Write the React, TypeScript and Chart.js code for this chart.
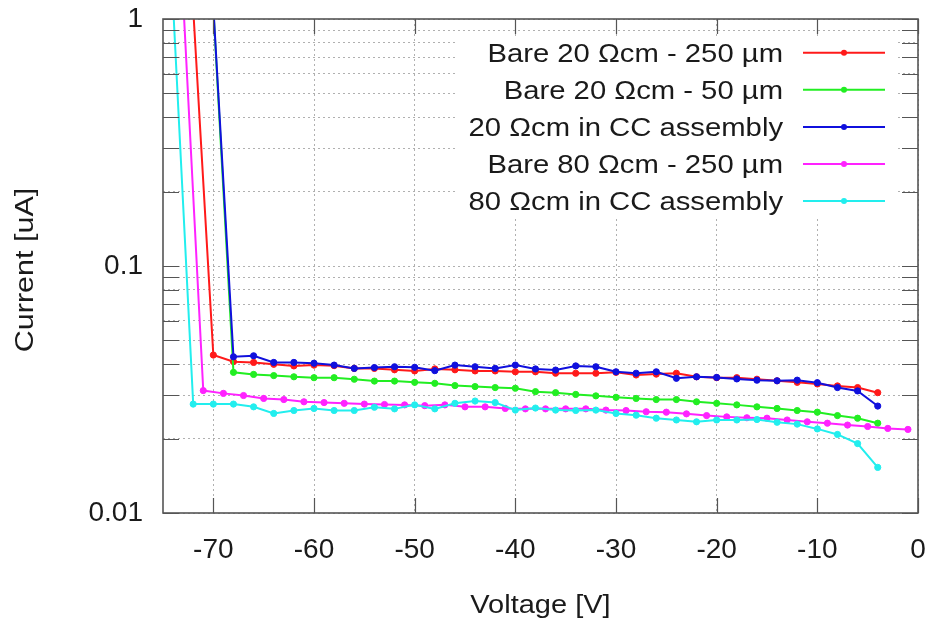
import { useEffect, useRef } from "react";
import { Chart, registerables } from "chart.js";

Chart.register(...registerables);

// ---------- data ----------
const seriesNames = [
  "Bare 20 Ωcm - 250 µm",
  "Bare 20 Ωcm - 50 µm",
  "20 Ωcm in CC assembly",
  "Bare 80 Ωcm - 250 µm",
  "80 Ωcm in CC assembly",
];
const seriesColors = ["#ff1a1a", "#22ee22", "#1010dd", "#ff22ff", "#22eeee"];

const redV = [-72, -70, -68, -66, -64, -62, -60, -58, -56, -54, -52, -50, -48, -46, -44, -42, -40, -38,
  -36, -34, -32, -30, -28, -26, -24, -22, -20, -18, -16, -14, -12, -10, -8, -6, -4];
const redI = [1.1, 0.0436, 0.041, 0.0407, 0.04, 0.0394, 0.0397, 0.0395, 0.0385, 0.0385, 0.038, 0.0376, 0.0383, 0.038, 0.0376, 0.0376, 0.0373, 0.0373,
  0.0368, 0.0368, 0.0368, 0.0371, 0.0362, 0.0365, 0.0368, 0.0356, 0.0353, 0.0353, 0.0348, 0.0343, 0.0338, 0.0333, 0.0327, 0.0322, 0.0307];

const greenV = [-70, -68, -66, -64, -62, -60, -58, -56, -54, -52, -50, -48, -46, -44, -42, -40, -38,
  -36, -34, -32, -30, -28, -26, -24, -22, -20, -18, -16, -14, -12, -10, -8, -6, -4];
const greenI = [1.1, 0.0371, 0.0364, 0.036, 0.0356, 0.0353, 0.0353, 0.0348, 0.0342, 0.0342, 0.0338, 0.0335, 0.0328, 0.0325, 0.0322, 0.032, 0.031,
  0.0307, 0.0302, 0.0298, 0.0294, 0.0291, 0.0288, 0.0288, 0.0282, 0.0278, 0.0274, 0.0269, 0.0265, 0.026, 0.0256, 0.0248, 0.0242, 0.0231];

const blueV = [-70, -68, -66, -64, -62, -60, -58, -56, -54, -52, -50, -48, -46, -44, -42, -40, -38,
  -36, -34, -32, -30, -28, -26, -24, -22, -20, -18, -16, -14, -12, -10, -8, -6, -4];
const blueI = [1.12, 0.0429, 0.0433, 0.0407, 0.0407, 0.0404, 0.0397, 0.0385, 0.0388, 0.0391, 0.0389, 0.0377, 0.0397, 0.0391, 0.0385, 0.0397, 0.0383,
  0.0379, 0.0394, 0.0391, 0.0373, 0.0368, 0.0373, 0.0351, 0.0356, 0.0354, 0.0349, 0.0345, 0.0343, 0.0345, 0.0337, 0.0322, 0.0312, 0.0271];

const magentaV = [-73, -71, -69, -67, -65, -63, -61, -59, -57, -55, -53, -51, -49, -47, -45, -43, -41, -39,
  -37, -35, -33, -31, -29, -27, -25, -23, -21, -19, -17, -15, -13, -11, -9, -7, -5, -3, -1];
const magentaI = [1.2, 0.0313, 0.0305, 0.0299, 0.0291, 0.0288, 0.0282, 0.028, 0.0278, 0.0276, 0.0275, 0.0274, 0.0272, 0.0274, 0.0269, 0.0269, 0.0265, 0.0264,
  0.0264, 0.0264, 0.0264, 0.0261, 0.026, 0.0257, 0.0256, 0.0252, 0.0248, 0.0245, 0.0243, 0.0242, 0.0238, 0.0234, 0.0231, 0.0227, 0.0224, 0.022, 0.0218];

const cyanV = [-74, -72, -70, -68, -66, -64, -62, -60, -58, -56, -54, -52, -50, -48, -46, -44, -42, -40, -38,
  -36, -34, -32, -30, -28, -26, -24, -22, -20, -18, -16, -14, -12, -10, -8, -6, -4];
const cyanI = [1.14, 0.0276, 0.0276, 0.0276, 0.0269, 0.0253, 0.026, 0.0265, 0.026, 0.026, 0.0268, 0.0264, 0.0274, 0.0264, 0.0278, 0.0284, 0.028, 0.0261, 0.0266,
  0.0261, 0.026, 0.0261, 0.0253, 0.0249, 0.0242, 0.0238, 0.0234, 0.0238, 0.0238, 0.0239, 0.0233, 0.0229, 0.0219, 0.0208, 0.0191, 0.0153];

const xTickValues = [-70, -60, -50, -40, -30, -20, -10, 0];
const yMajorValues = [0.01, 0.1, 1];
const yTickLabels = ["0.01", "0.1", "1"];
const yMinorMultipliers = [1, 2, 3, 4, 5, 6, 7, 8, 9];
const xTitle = "Voltage [V]";
const yTitle = "Current [uA]";

const seriesV = [redV, greenV, blueV, magentaV, cyanV];
const seriesI = [redI, greenI, blueI, magentaI, cyanI];

const FONT = "'Liberation Sans', Arial, Helvetica, sans-serif";
const TEXT = "#1a1a1a";
const AXIS = "#555555";

function stretchedText(ctx: CanvasRenderingContext2D, text: string, x: number, y: number, sx: number, align: CanvasTextAlign, rot = 0) {
  ctx.save();
  ctx.translate(x, y);
  if (rot) ctx.rotate(rot);
  ctx.scale(sx, 1);
  ctx.textAlign = align;
  ctx.textBaseline = "alphabetic";
  ctx.fillText(text, 0, 0);
  ctx.restore();
}

const framePlugin = {
  id: "frame",
  afterDatasetsDraw(chart: any) {
    const { ctx, chartArea: a, scales } = chart;
    ctx.save();
    // legend background (opaque key)
    ctx.fillStyle = "#ffffff";
    ctx.fillRect(458, 36, 440, 183);
    // tick marks (inward on all four sides)
    ctx.strokeStyle = AXIS;
    ctx.lineWidth = 1.2;
    ctx.beginPath();
    for (const t of scales.y.ticks) {
      const p = Math.round(scales.y.getPixelForValue(t.value)) + 0.5;
      ctx.moveTo(a.left, p);
      ctx.lineTo(a.left + 16, p);
      ctx.moveTo(a.right - 16, p);
      ctx.lineTo(a.right, p);
    }
    for (const t of scales.x.ticks) {
      const p = Math.round(scales.x.getPixelForValue(t.value)) + 0.5;
      ctx.moveTo(p, a.bottom);
      ctx.lineTo(p, a.bottom - 15);
      ctx.moveTo(p, a.top);
      ctx.lineTo(p, a.top + 15);
    }
    ctx.stroke();
    // frame
    ctx.lineWidth = 1.6;
    ctx.strokeRect(a.left, a.top, a.right - a.left, a.bottom - a.top);

    // axis titles
    ctx.fillStyle = TEXT;
    ctx.font = `25px ${FONT}`;
    stretchedText(ctx, xTitle, (a.left + a.right) / 2, 613, 1.16, "center");
    stretchedText(ctx, yTitle, 33, 270, 1.22, "center", -Math.PI / 2);

    // legend
    const rowY0 = 52.7;
    const rowStep = 37.1;
    seriesNames.forEach((name, i) => {
      const cy = rowY0 + i * rowStep;
      ctx.fillStyle = TEXT;
      ctx.font = `25px ${FONT}`;
      stretchedText(ctx, name, 783, cy + 9, 1.17, "right");
      ctx.strokeStyle = seriesColors[i];
      ctx.lineWidth = 2;
      ctx.beginPath();
      ctx.moveTo(803, cy);
      ctx.lineTo(885, cy);
      ctx.stroke();
      ctx.fillStyle = seriesColors[i];
      ctx.beginPath();
      ctx.arc(844, cy, 3, 0, Math.PI * 2);
      ctx.fill();
    });
    ctx.restore();
  },
};

export default function App() {
  const ref = useRef<HTMLCanvasElement | null>(null);

  useEffect(() => {
    if (!ref.current) return;
    const n = seriesNames.length;
    const datasets = seriesNames.map((name, i) => ({
      label: name,
      data: seriesV[i].map((v, j) => ({ x: v, y: seriesI[i][j] })),
      order: n - i, // later series drawn on top
      borderColor: seriesColors[i],
      backgroundColor: seriesColors[i],
      pointBackgroundColor: seriesColors[i],
      pointBorderColor: seriesColors[i],
      pointRadius: 3.1,
      pointBorderWidth: 1,
      borderWidth: 2,
      tension: 0,
      showLine: true,
      fill: false,
    }));

    const chart = new Chart(ref.current, {
      type: "line",
      data: { datasets },
      plugins: [framePlugin],
      options: {
        responsive: false,
        animation: false,
        layout: { padding: { left: 0, right: 14, top: 19, bottom: 0 } },
        plugins: { legend: { display: false }, tooltip: { enabled: false } },
        scales: {
          x: {
            type: "linear",
            min: -75,
            max: 0,
            afterBuildTicks: (s: any) => {
              s.ticks = xTickValues.map((v) => ({ value: v }));
            },
            afterFit: (s: any) => {
              s.height = 110;
              s.paddingLeft = 0;
              s.paddingRight = 0;
            },
            grid: { color: "#b0b0b0", lineWidth: 1, drawTicks: false },
            border: { display: false, dash: [2, 3] },
            ticks: {
              padding: 20,
              autoSkip: false,
              maxRotation: 0,
              color: TEXT,
              font: { family: FONT, size: 28 },
              callback: (v: any) => String(v),
            },
          },
          y: {
            type: "logarithmic",
            min: 0.01,
            max: 1,
            afterBuildTicks: (s: any) => {
              const t: { value: number }[] = [];
              for (let d = 0; d < yMajorValues.length - 1; d++) {
                for (const m of yMinorMultipliers) t.push({ value: yMajorValues[d] * m });
              }
              t.push({ value: yMajorValues[yMajorValues.length - 1] });
              s.ticks = t;
            },
            afterFit: (s: any) => {
              s.width = 163;
              s.paddingTop = 0;
              s.paddingBottom = 0;
            },
            grid: { color: "#b0b0b0", lineWidth: 1, drawTicks: false },
            border: { display: false, dash: [2, 3] },
            ticks: {
              padding: 20,
              autoSkip: false,
              color: TEXT,
              font: { family: FONT, size: 28 },
              callback: (v: any) => {
                const idx = yMajorValues.findIndex((m) => Math.abs(m - Number(v)) < m * 1e-6);
                return idx >= 0 ? yTickLabels[idx] : "";
              },
            },
          },
        },
      },
    } as any);
    return () => chart.destroy();
  }, []);

  return (
    <div style={{ position: "absolute", left: 0, top: 0, width: 932, height: 623, background: "#fff" }}>
      <canvas ref={ref} width={932} height={623} style={{ display: "block" }} />
    </div>
  );
}
